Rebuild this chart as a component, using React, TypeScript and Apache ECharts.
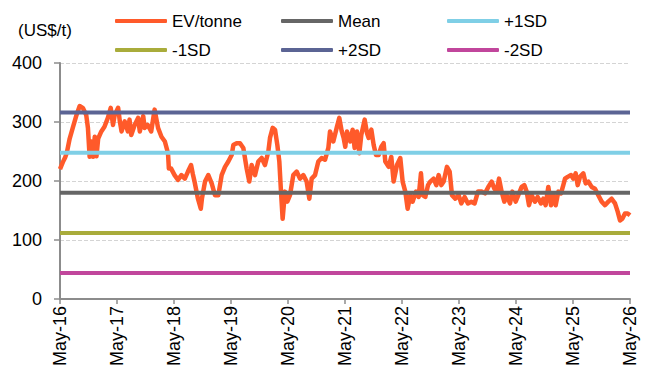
import React, { useEffect, useRef } from 'react';
import * as echarts from 'echarts';

const tickLabels = ['May-16', 'May-17', 'May-18', 'May-19', 'May-20', 'May-21', 'May-22', 'May-23', 'May-24', 'May-25', 'May-26'];

// years since May-16
const evYears = [
  0.00, 0.05, 0.09, 0.12, 0.17, 0.23, 0.29, 0.345, 0.40, 0.46, 0.49, 0.52, 0.55, 0.58, 0.61, 0.64, 0.67, 0.725, 0.78, 0.84,
  0.89, 0.93, 0.96, 1.02, 1.05, 1.08, 1.135, 1.19, 1.22, 1.25, 1.31, 1.37, 1.40, 1.46, 1.485, 1.54, 1.60, 1.66, 1.72, 1.78,
  1.84, 1.895, 1.91, 1.95, 2.01, 2.07, 2.13, 2.19, 2.245, 2.30, 2.33, 2.36, 2.42, 2.47, 2.49, 2.544, 2.602, 2.661, 2.719, 2.778,
  2.836, 2.895, 2.953, 3.012, 3.041, 3.099, 3.158, 3.216, 3.275, 3.321, 3.362, 3.421, 3.479, 3.538, 3.596, 3.655, 3.684, 3.731, 3.772, 3.813,
  3.848, 3.877, 3.906, 3.947, 3.988, 4.035, 4.093, 4.152, 4.210, 4.269, 4.327, 4.374, 4.415, 4.474, 4.532, 4.591, 4.649, 4.708, 4.737, 4.795,
  4.854, 4.900, 4.941, 4.976, 5.005, 5.035, 5.093, 5.134, 5.169, 5.210, 5.251, 5.286, 5.345, 5.386, 5.415, 5.462, 5.503, 5.544, 5.590, 5.637,
  5.678, 5.707, 5.766, 5.812, 5.853, 5.912, 5.970, 6.011, 6.058, 6.099, 6.146, 6.187, 6.245, 6.292, 6.333, 6.362, 6.409, 6.456, 6.497, 6.555,
  6.602, 6.643, 6.690, 6.731, 6.789, 6.836, 6.877, 6.935, 6.994, 7.040, 7.099, 7.157, 7.216, 7.274, 7.333, 7.403, 7.456, 7.514, 7.573, 7.620,
  7.661, 7.702, 7.748, 7.795, 7.836, 7.895, 7.936, 7.994, 8.041, 8.099, 8.146, 8.187, 8.228, 8.275, 8.333, 8.380, 8.438, 8.479, 8.520, 8.567,
  8.614, 8.655, 8.696, 8.743, 8.789, 8.830, 8.860, 8.906, 8.965, 9.006, 9.047, 9.082, 9.123, 9.181, 9.222, 9.269, 9.327, 9.386, 9.444, 9.503,
  9.561, 9.620, 9.678, 9.737, 9.784, 9.825, 9.865, 9.912, 9.959, 10.0,
];

const evValues = [
  220, 232, 240, 248, 272, 292, 312, 327, 324, 312, 290, 241, 267, 241, 275, 242, 272, 284, 292, 307,
  324, 295, 312, 324, 301, 284, 301, 284, 304, 278, 295, 307, 284, 310, 290, 295, 284, 321, 290, 275,
  267, 247, 221, 221, 210, 202, 210, 204, 216, 227, 212, 199, 170, 153, 170, 199, 210, 196, 176, 176,
  210, 224, 233, 244, 261, 264, 264, 256, 221, 199, 227, 210, 233, 239, 227, 250, 273, 290, 287, 261,
  233, 182, 136, 182, 165, 176, 210, 216, 204, 210, 199, 170, 204, 210, 233, 239, 236, 256, 284, 267,
  290, 307, 285, 273, 258, 284, 267, 287, 256, 284, 247, 278, 304, 281, 273, 287, 261, 244, 244, 258,
  264, 233, 224, 241, 199, 227, 239, 199, 182, 153, 176, 165, 182, 173, 213, 176, 173, 193, 199, 204,
  193, 210, 193, 199, 224, 216, 176, 170, 176, 162, 173, 162, 165, 162, 182, 182, 179, 190, 199, 187,
  182, 204, 182, 165, 176, 162, 182, 165, 176, 190, 193, 182, 159, 176, 165, 173, 162, 170, 159, 190,
  159, 176, 159, 182, 179, 193, 204, 207, 210, 204, 213, 193, 207, 213, 196, 199, 190, 187, 176, 165,
  159, 165, 170, 162, 148, 133, 136, 145, 145, 142,
];

const meanValue = 180;
const plus1SD = 248;
const minus1SD = 112;
const plus2SD = 316;
const minus2SD = 44;

const seriesNames = ['EV/tonne', 'Mean', '+1SD', '-1SD', '+2SD', '-2SD'];
const seriesColors = ['#ff5a2a', '#666666', '#7fcfe6', '#a9ac3b', '#5b6494', '#c1469c'];

const FONT = "'Liberation Sans', Arial, sans-serif";

export default function App() {
  const ref = useRef<HTMLDivElement>(null);

  useEffect(() => {
    document.body.style.margin = '0';
    const chart = echarts.init(ref.current as HTMLDivElement, null, { renderer: 'svg' });
    const xMin = 0;
    const xMax = tickLabels.length - 1;
    const flat = (v: number) => [[xMin, v], [xMax, v]];
    const evData = evYears.map((t, i) => [t, evValues[i]]);
    const levels = [meanValue, plus1SD, minus1SD, plus2SD, minus2SD];

    const legendBase = {
      orient: 'vertical' as const,
      top: 6,
      itemWidth: 52,
      itemHeight: 4,
      itemGap: 9,
      icon: 'roundRect',
      selectedMode: false,
      textStyle: { fontSize: 17, lineHeight: 20, color: '#000', fontFamily: FONT },
    };

    chart.setOption({
      animation: false,
      textStyle: { fontFamily: FONT },
      color: seriesColors,
      graphic: [
        {
          type: 'text',
          left: 18,
          top: 22,
          style: { text: '(US$/t)', fontSize: 17, fill: '#000', fontFamily: FONT },
        },
      ],
      legend: [
        { ...legendBase, left: 110, data: [seriesNames[0], seriesNames[3]] },
        { ...legendBase, left: 276, data: [seriesNames[1], seriesNames[4]] },
        { ...legendBase, left: 442, data: [seriesNames[2], seriesNames[5]] },
      ],
      grid: { left: 60, right: 15, top: 63, bottom: 74 },
      xAxis: {
        type: 'value',
        min: xMin,
        max: xMax,
        interval: 1,
        axisLine: { show: true, onZero: false, lineStyle: { color: '#8c8c8c', width: 2 } },
        axisTick: { show: true, length: 5, lineStyle: { color: '#8c8c8c', width: 1.5 } },
        splitLine: { show: false },
        axisLabel: {
          rotate: 90,
          margin: 7,
          fontSize: 18,
          color: '#000',
          fontFamily: FONT,
          formatter: (v: number) => tickLabels[Math.round(v)] ?? '',
        },
      },
      yAxis: {
        type: 'value',
        min: 0,
        max: 400,
        interval: 100,
        axisLine: { show: true, lineStyle: { color: '#8c8c8c', width: 2 } },
        axisTick: { show: true, length: 6, lineStyle: { color: '#8c8c8c', width: 1.5 } },
        splitLine: { show: true, lineStyle: { type: 'dashed', color: '#d4d4d4', width: 1 } },
        axisLabel: { fontSize: 18, color: '#000', margin: 18, fontFamily: FONT },
      },
      series: [
        {
          name: seriesNames[0],
          type: 'line',
          data: evData,
          symbol: 'none',
          lineStyle: { width: 4.5, color: seriesColors[0], join: 'round' },
          itemStyle: { color: seriesColors[0] },
          z: 2,
        },
        ...levels.map((lv, i) => ({
          name: seriesNames[i + 1],
          type: 'line',
          data: flat(lv),
          symbol: 'none',
          lineStyle: { width: 4, color: seriesColors[i + 1] },
          itemStyle: { color: seriesColors[i + 1] },
          z: 3,
        })),
      ],
    });

    return () => chart.dispose();
  }, []);

  return <div ref={ref} style={{ width: 645, height: 373 }} />;
}
